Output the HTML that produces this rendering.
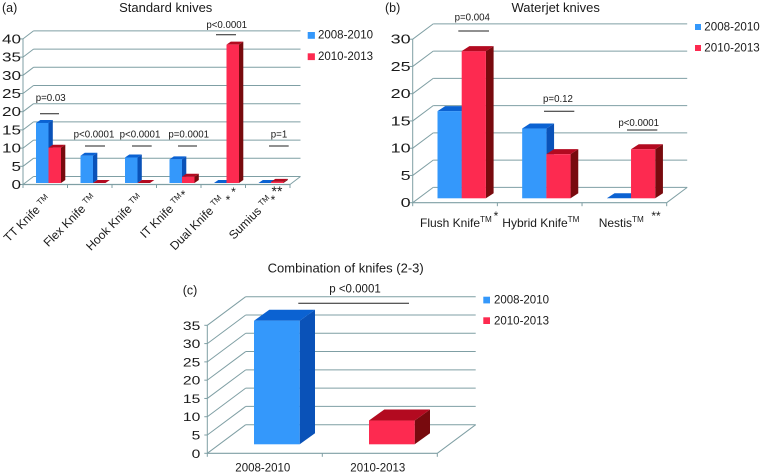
<!DOCTYPE html>
<html>
<head>
<meta charset="utf-8">
<style>
html,body{margin:0;padding:0;background:#fff;width:760px;height:475px;overflow:hidden}
svg{display:block;font-family:"Liberation Sans",sans-serif;fill:#1a1a1a}
</style>
</head>
<body>
<svg id="chart" width="760" height="475" viewBox="0 0 760 475" xmlns="http://www.w3.org/2000/svg"></svg>
<script>
var legendLabels = ['2008-2010', '2010-2013'];

var aTicks = [0, 5, 10, 15, 20, 25, 30, 35, 40];
var aCategories = ['TT Knife', 'Flex Knife', 'Hook Knife', 'IT Knife', 'Dual Knife', 'Sumius'];
var aEarly = [16.5, 7.5, 7, 6.5, 0, 0];
var aLate = [9.7, 0, 0, 1.7, 38, 0.3];

var bTicks = [0, 5, 10, 15, 20, 25, 30];
var bCategories = ['Flush Knife', 'Hybrid Knife', 'Nestis'];
var bEarly = [16, 12.8, 0];
var bLate = [27, 8.1, 9];

var cTicks = [0, 5, 10, 15, 20, 25, 30, 35];
var cCategories = ['2008-2010', '2010-2013'];
var cEarly = [33.8];
var cLate = [6.5];

var svg = document.getElementById('chart');
var NS = 'http://www.w3.org/2000/svg';
var BLUE = {front: '#3498fb', top: '#0b62d2', side: '#0a52b8'};
var RED = {front: '#fd2a50', top: '#b30a20', side: '#780a0e'};
var GRID = '#7f9fa4';

function el(tag, attrs, parent) {
  var e = document.createElementNS(NS, tag);
  for (var k in attrs) e.setAttribute(k, attrs[k]);
  (parent || svg).appendChild(e);
  return e;
}
function text(str, x, y, size, anchor, parent) {
  var t = el('text', {x: x, y: y, 'font-size': size, 'text-anchor': anchor || 'start'}, parent);
  t.textContent = str;
  return t;
}
function line(x1, y1, x2, y2, color, width, parent) {
  return el('line', {x1: x1, y1: y1, x2: x2, y2: y2, stroke: color, 'stroke-width': width}, parent);
}

function bar(g, scaleY, x, w, value, p, c, name) {
  var base = p.barBase;
  var top = base - (scaleY(0) - scaleY(value));
  var b = el('g', {}, g);
  
  
  el('polygon', {fill: c.side, points: [x + w, top, x + w + p.barDx, top - p.barDy, x + w + p.barDx, base - p.barDy, x + w, base].join(' ')}, b);
  el('polygon', {fill: c.top, points: [x, top, x + p.barDx, top - p.barDy, x + w + p.barDx, top - p.barDy, x + w, top].join(' ')}, b);
  if (value > 0) el('rect', {fill: c.front, x: x, y: top, width: w, height: base - top}, b);
}

function panel(p, ticks, categories, early, late) {
  var g = el('g', {});
  
  
  var maxTick = ticks[ticks.length - 1];
  var scaleY = function (v) { return p.y0 - v * p.unit; };
  var step = (p.xEnd - p.x0) / categories.length;
  var scaleX = function (i) { return p.x0 + i * step; };

  ticks.forEach(function (t) {
    var y = scaleY(t);
    var grid = line(p.x0, y, p.x0 + p.dx, y - p.dy, GRID, 1, g);
    
    
    var back = line(p.x0 + p.dx, y - p.dy, p.xEnd + p.dx, y - p.dy, GRID, 1, g);
    
    
    line(p.x0 - 3, y, p.x0, y, GRID, 1, g);
    var lab = text(String(t), p.x0 - p.labelGap, y + 4.5, p.tickSize, 'end', g);
    lab.setAttribute('textLength', String(t).length * p.digitW);
    lab.setAttribute('lengthAdjust', 'spacingAndGlyphs');
    
    
  });
  line(p.x0, scaleY(0), p.x0, scaleY(maxTick), GRID, 1, g);
  line(p.x0, scaleY(0), p.xEnd, scaleY(0), GRID, 1.2, g);
  line(p.xEnd, scaleY(0), p.xEnd + p.dx, scaleY(0) - p.dy, GRID, 1, g);
  for (var i = 0; i <= categories.length; i++) {
    line(scaleX(i), scaleY(0), scaleX(i), scaleY(0) + 3.5, GRID, 1, g);
  }
  if (p.single) {
    bar(g, scaleY, scaleX(0) + p.barOffset, p.barW, early[0], p, BLUE, 'bar-early');
    bar(g, scaleY, scaleX(1) + p.barOffset, p.barW, late[0], p, RED, 'bar-late');
  } else {
    categories.forEach(function (c, i) {
      var x = scaleX(i) + p.barOffset;
      bar(g, scaleY, x, p.barW, early[i], p, BLUE, 'bar-early-' + i);
      bar(g, scaleY, x + p.barW, p.barW, late[i], p, RED, 'bar-late-' + i);
    });
  }
  return {scaleX: scaleX, step: step, g: g};
}

function legend(sx, ys, tx, tys, sw, sh, size, prefix) {
  legendLabels.forEach(function (lab, i) {
    var c = i === 0 ? BLUE : RED;
    var s = el('rect', {x: sx, y: ys[i], width: sw, height: sh, fill: c.front});
    
    
    var t = text(lab, tx, tys[i], size);
    
    
  });
}

function annot(label, cx, ty, x1, x2, ly, size) {
  var t = text(label, cx, ty, size || 9.7, 'middle');
  
  
  var l = line(x1, ly, x2, ly, '#222', 1);
  
  
}

function heading(str, cx, y, name) {
  var t = text(str, cx, y, 13, 'middle');
  
  
}
function panelLetter(str, x, y, name) {
  var t = text(str, x, y, 12.5);
  
  
}
function tmLabel(str, x, y, size, anchor, transform, tmDy) {
  var t = el('text', {x: x, y: y, 'font-size': size, 'text-anchor': anchor});
  if (transform) t.setAttribute('transform', transform);
  
  
  t.appendChild(document.createTextNode(str));
  var s = el('tspan', {'font-size': size * 0.68, dy: tmDy}, t);
  s.textContent = 'TM';
  return t;
}
function star(str, x, y, size) {
  var t = text(str, x, y, size || 12, 'middle');
  
  
}

/* Panel (a) */
var pa = panel({name: 'standard-knives-chart', x0: 23, xEnd: 290, y0: 184.5, unit: 3.64, dx: 10.5, dy: 8,
  barBase: 183, barOffset: 13, barW: 12.5, barDx: 4.3, barDy: 3, labelGap: 2, tickSize: 12.5, digitW: 9.5}, aTicks, aCategories, aEarly, aLate);
aCategories.forEach(function (c, i) {
  var x = pa.scaleX(i) + pa.step / 2 + [6, 7, 9, 6, 1.5, 5][i];
  var y = [200, 199, 199, 199, 201, 201][i];
  tmLabel(c + ' ', x, y, 12, 'end', 'rotate(-45 ' + x + ' ' + y + ')', -4);
});
heading('Standard knives', 165.7, 12, 'standard-knives-title');
panelLetter('(a)', 2, 12, 'panel-a-label');
legend(307.7, [32, 53.3], 318, [38.6, 59.8], 7.2, 6.8, 11.5, 'panel-a');
annot('p=0.03', 50.7, 101, 40, 59, 113.7);
annot('p<0.0001', 94, 137.5, 85, 105, 146);
annot('p<0.0001', 140, 137.5, 132, 151.7, 146);
annot('p=0.0001', 188.7, 137.5, 178, 197, 146);
annot('p<0.0001', 226.7, 28, 216, 236, 34.7);
annot('p=1', 279, 137.5, 269, 288.7, 146);
star('*', 183, 199);
star('*', 233.5, 196);
star('*', 228, 204);
star('**', 277, 196, 14);
star('*', 273, 204);

/* Panel (b) */
var pb = panel({name: 'waterjet-knives-chart', x0: 412.7, xEnd: 666.7, y0: 202.7, unit: 5.45, dx: 20.5, dy: 15.3,
  barBase: 198.3, barOffset: 24.8, barW: 24.2, barDx: 7.7, barDy: 5, labelGap: 2, tickSize: 12.5, digitW: 10}, bTicks, bCategories, bEarly, bLate);
tmLabel(bCategories[0], 420, 227, 12, 'start', null, -5);
tmLabel(bCategories[1], 502.3, 227, 12, 'start', null, -5);
tmLabel(bCategories[2], 598.7, 227, 12, 'start', null, -5);
heading('Waterjet knives', 555.7, 12, 'waterjet-knives-title');
panelLetter('(b)', 385, 12, 'panel-b-label');
legend(695, [24, 45], 704.3, [30.3, 51.3], 6, 6, 11.6, 'panel-b');
annot('p=0.004', 472.3, 20.5, 458.3, 489, 31);
annot('p=0.12', 558, 102, 544, 574.3, 111.3);
annot('p<0.0001', 638.7, 126, 627, 657.3, 130);
star('*', 496, 220);
star('**', 656, 220);

/* Panel (c) */
var pc = panel({name: 'knife-combination-chart', single: true, x0: 207.3, xEnd: 437.3, y0: 453.3, unit: 3.657, dx: 38.4, dy: 28.6,
  barBase: 444.3, barOffset: 46.7, barW: 45.7, barDx: 15.3, barDy: 11, labelGap: 7, tickSize: 11.5, digitW: 8.7},
  cTicks, cCategories, cEarly, cLate);
cCategories.forEach(function (c, i) {
  var t = text(c, pc.scaleX(i) + pc.step / 2 - 2, 471.7, 11.5, 'middle');
  
  
});
heading('Combination of knifes (2-3)', 345.7, 272.7, 'combination-title');
panelLetter('(c)', 182.7, 294.3, 'panel-c-label');
legend(483.3, [296.7, 317.3], 494, [303.5, 324.3], 6.7, 6.7, 11.5, 'panel-c');
annot('p <0.0001', 355, 292.7, 298.3, 409, 303.3, 11.5);
</script>
</body>
</html>
